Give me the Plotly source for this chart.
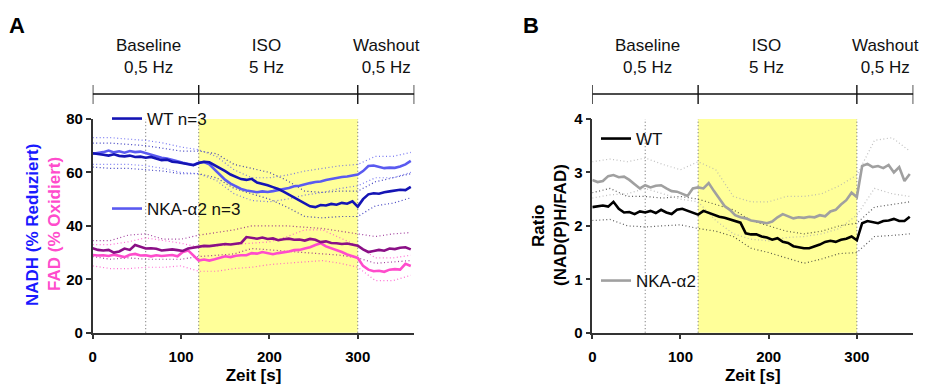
import plotly.graph_objects as go

# ---------------- data ----------------
T = list(range(0, 361, 6))          # sample times [s] for mean traces
T_BAND = list(range(0, 361, 20))    # sample times [s] for SD (dotted) traces

# Panel A: NADH (% reduced) and FAD (% oxidised)
nadh_wt = [67.2, 67.0, 66.6, 66.3, 66.8, 66.2, 66.0, 66.3, 65.8, 65.9,
           65.5, 65.8, 65.2, 64.6, 64.8, 64.0, 63.8, 63.5, 63.0, 62.7,
           63.5, 64.0, 63.8, 62.8, 61.5, 60.5, 59.2, 58.3, 57.5, 57.2,
           57.6, 56.2, 55.8, 55.2, 54.5, 53.8, 52.8, 51.7, 50.5, 49.3,
           48.2, 47.3, 47.0, 47.8, 47.6, 48.2, 47.9, 48.6, 48.3, 49.2,
           47.2, 50.0, 51.8, 52.2, 52.0, 52.6, 52.9, 53.1, 53.5, 53.4, 54.6]
nadh_nka = [67.0, 67.3, 67.6, 68.2, 67.5, 67.9, 67.4, 68.0, 67.6, 67.8,
            67.2, 66.8, 66.2, 65.5, 65.2, 64.8, 64.2, 63.6, 63.2, 62.8,
            63.6, 63.9, 63.0, 61.0, 59.0, 57.2, 55.8, 54.8, 53.8, 53.2,
            52.8, 52.6, 52.9, 52.7, 53.0, 53.3, 53.8, 54.2, 54.8, 55.0,
            55.6, 56.0, 56.4, 56.6, 57.2, 57.6, 57.9, 58.3, 58.5, 58.8,
            59.2, 60.5, 62.4, 62.6, 62.2, 61.6, 61.8, 61.7, 62.2, 63.0, 64.3]
fad_wt = [31.6, 31.0, 30.8, 31.0, 30.0, 30.4, 31.5, 31.0, 32.8, 32.2,
          31.5, 31.6, 31.4, 30.8, 31.0, 31.2, 30.9, 30.6, 31.5, 31.8,
          32.3, 32.5, 32.4, 32.6, 32.9, 33.2, 33.0, 33.4, 33.6, 35.8,
          35.6, 35.2, 35.6, 35.1, 35.3, 34.6, 35.0, 35.2, 34.8, 34.9,
          34.5, 35.1, 34.8, 33.9, 34.2, 33.6, 33.5, 33.2, 33.4, 33.0,
          32.6, 31.2, 30.2, 30.6, 31.0, 30.7, 31.5, 31.3, 31.8, 32.0, 31.2]
fad_nka = [29.1, 28.9, 29.0, 28.7, 29.2, 28.8, 28.3, 29.2, 29.5, 28.9,
           29.0, 28.6, 29.0, 28.7, 28.9, 29.1, 28.6, 30.2, 30.8, 29.0,
           27.0, 27.4, 27.0, 27.5, 28.0, 28.6, 28.3, 28.8, 29.0, 29.0,
           29.8, 29.6, 30.2, 29.7, 29.4, 29.8, 30.0, 30.4, 30.9, 31.0,
           31.5, 32.0, 32.8, 33.5, 32.3, 31.6, 31.0, 30.2, 29.3, 28.5,
           28.0, 25.0, 23.6, 23.0, 23.2, 22.8, 23.6, 23.8, 23.6, 25.8, 25.0]

nadh_wt_hi = [71, 71, 70.5, 70, 69, 68, 68, 67, 63, 61.5, 60, 57, 53, 52.5, 53, 53, 56.5, 58, 59.5]
nadh_wt_lo = [62, 61.5, 61.5, 61, 60.5, 59.5, 59.5, 58, 54, 52, 50, 47, 43.5, 43, 43.5, 43.5, 47.5, 48.5, 50.5]
nadh_nka_hi = [73, 73, 72.5, 72, 71, 69.5, 68.5, 66, 61, 58, 58, 59, 60.5, 61.5, 62.5, 63, 66, 66, 67.5]
nadh_nka_lo = [63, 63, 63, 62.5, 61.5, 60, 59.5, 57, 52, 49.5, 49, 50, 51.5, 52.5, 54, 55, 58, 58, 60]
fad_wt_hi = [34.5, 34.5, 36.5, 37, 35, 35, 36.5, 37.5, 38.5, 40, 40, 40, 39.5, 39, 38, 37, 36, 37, 37.5]
fad_wt_lo = [28.5, 27.5, 28, 27.5, 27.5, 27.5, 28.5, 29, 29.5, 31.5, 31, 30.5, 30, 29.5, 29, 28, 26, 26.5, 27]
fad_nka_hi = [33, 33, 34, 35.5, 34.5, 33.5, 32, 32.5, 33, 33.5, 34, 36, 38.5, 38.5, 35.5, 32.5, 28, 28, 29]
fad_nka_lo = [25, 24, 24, 24.5, 24.5, 25, 23, 23, 24, 24.5, 25.5, 26, 26.5, 27, 26, 24.5, 19.5, 19.5, 21.5]

# Panel B: ratio NAD(P)H / FAD
ratio_wt = [2.35, 2.36, 2.38, 2.36, 2.45, 2.32, 2.25, 2.26, 2.22, 2.27,
            2.25, 2.28, 2.24, 2.30, 2.25, 2.22, 2.30, 2.32, 2.28, 2.25,
            2.21, 2.28, 2.24, 2.21, 2.17, 2.15, 2.12, 2.10, 2.06, 1.86,
            1.84, 1.84, 1.80, 1.78, 1.74, 1.77, 1.70, 1.68, 1.62, 1.60,
            1.58, 1.58, 1.61, 1.65, 1.70, 1.72, 1.70, 1.74, 1.76, 1.80,
            1.73, 2.05, 2.09, 2.07, 2.05, 2.09, 2.10, 2.13, 2.09, 2.09, 2.17]
ratio_nka = [2.86, 2.82, 2.84, 2.93, 2.95, 2.91, 2.92, 2.86, 2.78, 2.70,
             2.76, 2.72, 2.75, 2.76, 2.70, 2.65, 2.64, 2.60, 2.56, 2.70,
             2.72, 2.70, 2.80, 2.65, 2.50, 2.37, 2.30, 2.20, 2.16, 2.14,
             2.10, 2.08, 2.06, 2.05, 2.08, 2.16, 2.22, 2.18, 2.14, 2.16,
             2.15, 2.17, 2.16, 2.20, 2.18, 2.27, 2.30, 2.40, 2.48, 2.62,
             2.54, 3.12, 3.16, 3.10, 3.12, 3.08, 3.14, 3.00, 3.10, 2.84, 2.97]
ratio_wt_hi = [2.62, 2.7, 2.55, 2.55, 2.52, 2.55, 2.5, 2.4, 2.3, 2.1, 2.0, 1.9, 1.85, 1.9, 2.0, 2.05, 2.35, 2.4, 2.45]
ratio_wt_lo = [2.1, 2.12, 2.0, 1.98, 2.0, 2.02, 1.95, 1.9, 1.8, 1.58, 1.5, 1.4, 1.3, 1.38, 1.48, 1.5, 1.8, 1.82, 1.85]
ratio_nka_hi = [3.2, 3.25, 3.2, 3.27, 3.15, 3.05, 3.2, 3.05, 2.55, 2.45, 2.45, 2.55, 2.55, 2.6, 2.75, 2.95, 3.6, 3.65, 3.4]
ratio_nka_lo = [2.52, 2.58, 2.6, 2.7, 2.6, 2.5, 2.45, 2.1, 1.85, 1.75, 1.72, 1.78, 1.8, 1.85, 1.95, 2.2, 2.7, 2.6, 2.55]

# protocol phases
PHASE_EDGES = [0, 120, 300, 364]
PHASE_NAMES = ["Baseline", "ISO", "Washout"]
PHASE_FREQ = ["0,5 Hz", "5 Hz", "0,5 Hz"]
PHASE_LABEL_X = [63, 197, 333]
MARKER_LINES = [60, 120, 300]
ISO_WINDOW = [120, 300]

# ---------------- style ----------------
W, H = 925, 385
FONT = "Liberation Sans, Arial, sans-serif"
C_WT_NADH = "#1414b4"
C_NKA_NADH = "#5a5af0"
C_WT_FAD = "#8a0f86"
C_NKA_FAD = "#ff4ccc"
C_WT_R = "#000000"
C_NKA_R = "#a0a0a0"
YELLOW = "#ffff99"
DOT = "1px,2.5px"


def px(xp):
    return xp / W


def py(yp):
    return (H - yp) / H


fig = go.Figure()


def mean_trace(x, y, color, name, xa, ya, legend, show=True):
    fig.add_trace(go.Scatter(x=x, y=y, mode="lines", name=name,
                             line=dict(color=color, width=2.6),
                             xaxis=xa, yaxis=ya, legend=legend,
                             showlegend=show))


def band_trace(x, y, color, xa, ya):
    fig.add_trace(go.Scatter(x=x, y=y, mode="lines", showlegend=False,
                             line=dict(color=color, width=1.2, dash=DOT),
                             opacity=0.8, xaxis=xa, yaxis=ya,
                             hoverinfo="skip"))


# Panel A bands
for arr, col in [(nadh_wt_hi, C_WT_NADH), (nadh_wt_lo, C_WT_NADH),
                 (nadh_nka_hi, C_NKA_NADH), (nadh_nka_lo, C_NKA_NADH),
                 (fad_wt_hi, C_WT_FAD), (fad_wt_lo, C_WT_FAD),
                 (fad_nka_hi, C_NKA_FAD), (fad_nka_lo, C_NKA_FAD)]:
    band_trace(T_BAND, arr, col, "x", "y")

mean_trace(T, fad_nka, C_NKA_FAD, "NKA FAD", "x", "y", "legend", False)
mean_trace(T, fad_wt, C_WT_FAD, "WT FAD", "x", "y", "legend", False)
mean_trace(T, nadh_nka, C_NKA_NADH, "NKA-\u03b12 n=3", "x", "y", "legend2")
mean_trace(T, nadh_wt, C_WT_NADH, "WT n=3", "x", "y", "legend")

# Panel B bands
for arr, col in [(ratio_wt_hi, "#333333"), (ratio_wt_lo, "#333333"),
                 (ratio_nka_hi, "#b0b0b0"), (ratio_nka_lo, "#b0b0b0")]:
    band_trace(T_BAND, arr, col, "x2", "y2")

mean_trace(T, ratio_nka, C_NKA_R, "NKA-\u03b12", "x2", "y2", "legend4")
mean_trace(T, ratio_wt, C_WT_R, "WT", "x2", "y2", "legend3")

shapes = []
annotations = []
for xa, ya in [("x", "y"), ("x2", "y2")]:
    # ISO shading
    shapes.append(dict(type="rect", xref=xa, yref=ya + " domain",
                       x0=ISO_WINDOW[0], x1=ISO_WINDOW[1], y0=0, y1=1,
                       fillcolor=YELLOW, line=dict(width=0), layer="below"))
    for xv in MARKER_LINES:
        shapes.append(dict(type="line", xref=xa, yref=ya + " domain",
                           x0=xv, x1=xv, y0=0, y1=1, layer="below",
                           line=dict(color="#666666", width=1, dash=DOT)))
    # timeline bar
    shapes.append(dict(type="line", xref=xa, yref="paper",
                       x0=PHASE_EDGES[0], x1=PHASE_EDGES[-1],
                       y0=py(94), y1=py(94),
                       line=dict(color="#111111", width=1.4)))
    for xe in PHASE_EDGES:
        shapes.append(dict(type="line", xref=xa, yref="paper",
                           x0=xe, x1=xe, y0=py(85), y1=py(104),
                           line=dict(color="#111111", width=1.4)))
    for name, freq, xl in zip(PHASE_NAMES, PHASE_FREQ, PHASE_LABEL_X):
        annotations.append(dict(xref=xa, yref="paper", x=xl, y=py(56),
                                text=name + "<br>" + freq, showarrow=False,
                                font=dict(family=FONT, size=17, color="#111111"),
                                align="center", xanchor="center", yanchor="middle"))


def label(x, y, text, color="black", size=17, angle=0):
    annotations.append(dict(xref="paper", yref="paper", x=px(x), y=py(y),
                            text=text, textangle=angle, showarrow=False,
                            xanchor="center", yanchor="middle",
                            font=dict(family=FONT, size=size, color=color,
                                      weight="bold")))


label(17, 25, "A", size=22)
label(531, 25, "B", size=22)
label(32, 225, "NADH (% Reduziert)", color="#1a1aff", angle=-90)
label(54, 224, "FAD (% Oxidiert)", color=C_NKA_FAD, angle=-90)
label(538, 226, "Ratio", angle=-90)
label(560, 225, "(NAD(P)H/FAD)", angle=-90)

axis_common = dict(showline=True, linecolor="#333333", linewidth=1.5,
                   ticks="outside", ticklen=5, tickwidth=1.5, tickcolor="#333333",
                   showgrid=False, zeroline=False, automargin=False,
                   tickfont=dict(family=FONT, size=15, color="black", weight="bold"))

leg_common = dict(bgcolor="rgba(0,0,0,0)", borderwidth=0, itemwidth=30,
                  font=dict(family=FONT, size=17, color="#111111"),
                  xanchor="left", yanchor="middle", tracegroupgap=0)

xtitle = dict(text="Zeit [s]", standoff=9,
              font=dict(family=FONT, size=17, color="black", weight="bold"))

fig.update_layout(
    template="none",
    width=W, height=H,
    margin=dict(l=0, r=0, t=0, b=0, autoexpand=False),
    paper_bgcolor="white", plot_bgcolor="rgba(0,0,0,0)",
    showlegend=True,
    xaxis=dict(domain=[px(92.7), px(414.3)], range=[0, 364], anchor="y",
               tickvals=[0, 100, 200, 300], title=xtitle,
               ticklabelstandoff=5, **axis_common),
    yaxis=dict(domain=[py(332.7), py(119)], range=[0, 80], anchor="x",
               tickvals=[0, 20, 40, 60, 80], **axis_common),
    xaxis2=dict(domain=[px(592.3), px(913.3)], range=[0, 364], anchor="y2",
                tickvals=[0, 100, 200, 300], title=xtitle,
                ticklabelstandoff=5, **axis_common),
    yaxis2=dict(domain=[py(332.7), py(119)], range=[0, 4], anchor="x2",
                tickvals=[0, 1, 2, 3, 4], **axis_common),
    legend=dict(x=px(107), y=py(119), **leg_common),
    legend2=dict(x=px(107), y=py(209), **leg_common),
    legend3=dict(x=px(596), y=py(139), **leg_common),
    legend4=dict(x=px(596), y=py(281), **leg_common),
    shapes=shapes,
    annotations=annotations,
)

fig.write_html("out.html", config={"displayModeBar": False},
               post_script="document.body.style.margin='0';"
                           "document.body.style.overflow='hidden';")
